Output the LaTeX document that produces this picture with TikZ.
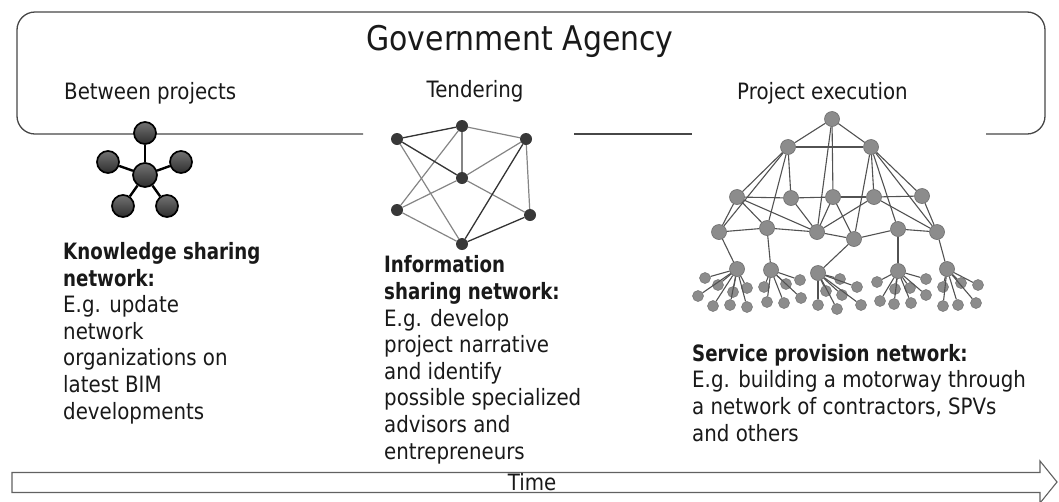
\documentclass[tikz,border=0pt]{standalone}
\usepackage{fontspec}
\setmainfont{DejaVu Sans}[FakeStretch=0.88,BoldFeatures={FakeStretch=0.81}]
\begin{document}
\begin{tikzpicture}[x=1pt,y=-1pt,
  frame/.style={draw=black!72, line width=1.3pt},
  title/.style={font=\fontsize{34}{40}\selectfont, text=black!90, inner sep=0pt},
  phase/.style={font=\fontsize{22.5}{26.5}\selectfont, text=black!90, inner sep=0pt},
  body/.style={font=\fontsize{22.5}{26.6}\selectfont, text=black!90, align=left, inner sep=0pt},
  hub/.style={circle, draw=black, line width=1.7pt, top color=black!55, bottom color=black!82, minimum size=22pt, inner sep=0pt},
  spoke/.style={draw=black, line width=2.4pt},
  tnd/.style={circle, fill=black!78, minimum size=12pt, inner sep=0pt},
  tlink/.style={draw=black!48, line width=1.2pt},
  tdark/.style={draw=black!80, line width=1.3pt},
  bignode/.style={circle, fill=black!45, draw=black!58, line width=0.6pt, minimum size=15pt, inner sep=0pt},
  leaf/.style={circle, fill=black!45, draw=black!55, line width=0.5pt, minimum size=11pt, inner sep=0pt},
  hlink/.style={draw=black!68, line width=1.1pt},
  timearrow/.style={draw=black!62, line width=1.1pt, fill=white}
]
\useasboundingbox (0,0) rectangle (1059,501);

% agency frame, open along its lower edge
\draw[frame, rounded corners=18pt] (363,134) -- (17,134) -- (17,12) -- (1045,12) -- (1045,134) -- (986,134);
\draw[frame] (574,134) -- (692,134);

\node[title, anchor=base] (agency) at (520,50) {Government Agency};
\node[phase, anchor=base west] (between) at (64,99) {Between projects};
\node[phase, anchor=base] (tender) at (475,97) {Tendering};
\node[phase, anchor=base west] (execution) at (737,99) {Project execution};

% knowledge sharing: star network
\node[hub, minimum size=24pt] (s0) at (145,175) {};
\node[hub] (s1) at (145,133) {};
\node[hub] (s2) at (108,162) {};
\node[hub] (s3) at (181,162) {};
\node[hub] (s4) at (123,206) {};
\node[hub] (s5) at (167,206) {};
\foreach \k in {1,...,5} \draw[spoke] (s0) -- (s\k);

% information sharing: mesh network
\node[tnd] (ta) at (397,139) {};
\node[tnd] (tb) at (462,126) {};
\node[tnd] (tc) at (526,139) {};
\node[tnd] (td) at (462,178) {};
\node[tnd] (te) at (397,210) {};
\node[tnd] (tf) at (530,215) {};
\node[tnd] (tg) at (462,244) {};
\foreach \u/\v in {tb/tc, ta/tg, tb/td, tb/te, tc/td, tc/tf, td/te, td/tf, te/tg}
  \draw[tlink] (\u) -- (\v);
\foreach \u/\v in {ta/tb, ta/td, tc/tg, tf/tg}
  \draw[tdark] (\u) -- (\v);

% service provision: hierarchical network
\foreach \n/\x/\y in {R/832/119, Ua/788/147, Ub/871/147,
    Ma/737/197, Mb/791/198, Mc/833/197, Md/874/197, Me/922/196,
    Lf/719/232, Lg/767/228, Lh/817/232, Li/854/239, Lj/898/229, Lk/937/232,
    Hp/737/269, Hq/771/270, Hr/818/273, Hs/898/271, Ht/947/269}
  \node[bignode] (\n) at (\x,\y) {};
\foreach \u/\v in {R/Ua, R/Ub, R/Mc, R/Lh, Ua/Ub, Ua/Ma, Ua/Lf, Ua/Mb, Ua/Lg,
    Ub/Md, Ub/Li, Ub/Lj, Ub/Me, Ub/Lk, Ma/Mb, Mb/Mc, Mc/Md, Md/Me,
    Ma/Lf, Ma/Lg, Ma/Lh, Mb/Lh, Mc/Lh, Mc/Li, Md/Lh, Md/Lk, Me/Lk,
    Lf/Lg, Lg/Lh, Lh/Li, Li/Lj, Lj/Lk, Lf/Hp, Lg/Hq, Li/Hr, Lj/Hs, Lk/Ht}
  \draw[hlink] (\u) -- (\v);

% leaves around each lower hub
\foreach \h/\lst in {Hp/{705/278,718/285,698/296,733/292,747/288,713/306,730/305,747/307},
    Hq/{764/287,786/284,800/280,767/302,784/303,801/298},
    Hr/{840/279,857/287,826/291,842/295,818/305,837/309,861/305},
    Hs/{877/282,895/289,910/288,926/279,880/301,894/304,911/303,926/295},
    Ht/{943/287,961/283,978/285,943/306,958/305,976/303}}{
  \foreach \x/\y [count=\i] in \lst {
    \node[leaf] (\h-\i) at (\x,\y) {};
    \draw[hlink] (\h) -- (\h-\i);
  }
}

% descriptions (anchored at the baseline of their last line)
\node[body, anchor=base west] (knowledge) at (63,419)
  {\textbf{Knowledge sharing}\\\textbf{network:}\\E.g. update\\network\\organizations on\\latest BIM\\developments};
\node[body, anchor=base west] (information) at (384,459)
  {\textbf{Information}\\\textbf{sharing network:}\\E.g. develop\\project narrative\\and identify\\possible specialized\\advisors and\\entrepreneurs};
\node[body, anchor=base west] (service) at (692,441)
  {\textbf{Service provision network:}\\E.g. building a motorway through\\a network of contractors, SPVs\\and others};

% time axis
\draw[timearrow] (12,472.5) -- (1040,472.5) -- (1040,461) -- (1057,482) -- (1040,503) -- (1040,492.5) -- (12,492.5) -- cycle;
\node[phase, anchor=base] (time) at (532,490) {Time};
\end{tikzpicture}
\end{document}
